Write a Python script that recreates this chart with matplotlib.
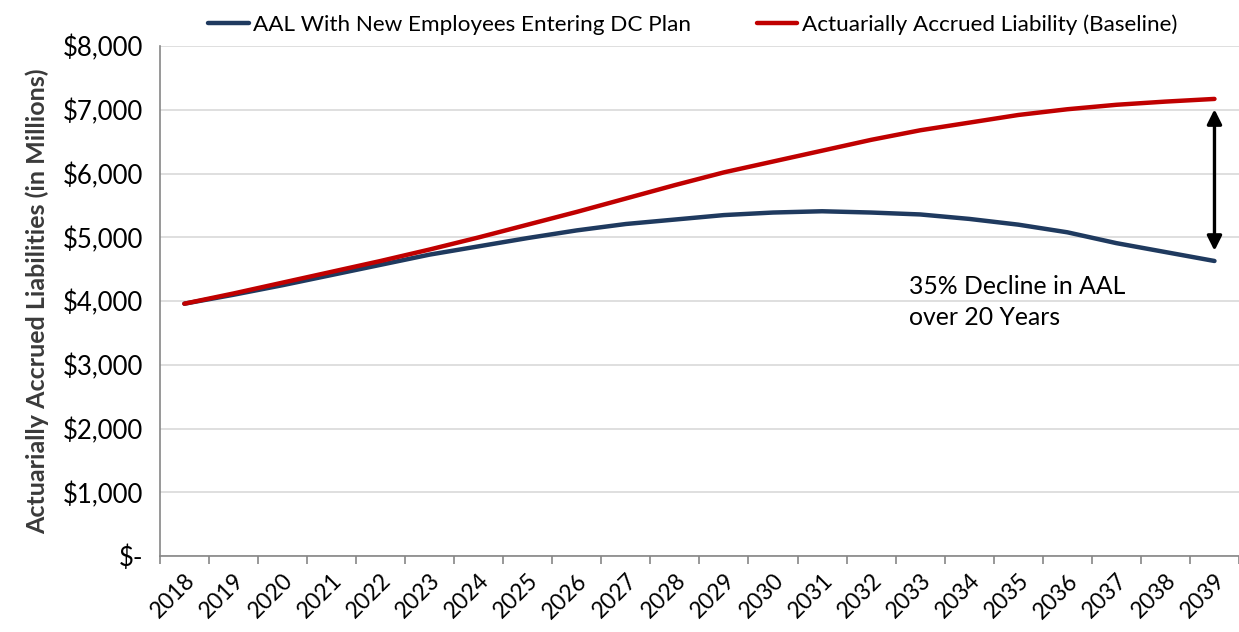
import matplotlib.pyplot as plt
import numpy as np

plt.rcParams["font.family"] = ["Lato", "DejaVu Sans"]

years = [str(y) for y in range(2018, 2040)]
baseline = [3960, 4120, 4290, 4460, 4630, 4810, 5000, 5200, 5400, 5610, 5820,
            6020, 6190, 6360, 6530, 6680, 6800, 6920, 7010, 7080, 7130, 7172]
dc_plan = [3960, 4100, 4250, 4410, 4570, 4730, 4860, 4990, 5110, 5210, 5280,
           5350, 5390, 5410, 5390, 5360, 5290, 5200, 5080, 4910, 4770, 4630]
yticks = [0, 1000, 2000, 3000, 4000, 5000, 6000, 7000, 8000]
ytick_labels = ["$-", "$1,000", "$2,000", "$3,000", "$4,000", "$5,000",
                "$6,000", "$7,000", "$8,000"]

fig = plt.figure(figsize=(12.39, 6.32), dpi=100)
ax = fig.add_axes([0.129, 0.120, 0.871, 0.807])

x = np.arange(len(years))
ax.plot(x, dc_plan, color="#1F3A5F", lw=3.2, solid_capstyle="round",
        label="AAL With New Employees Entering DC Plan")
ax.plot(x, baseline, color="#C00000", lw=3.2, solid_capstyle="round",
        label="Actuarially Accrued Liability (Baseline)")

ax.set_xlim(-0.5, len(years) - 0.5)
ax.set_ylim(0, 8000)
ax.set_yticks(yticks)
ax.set_yticklabels(ytick_labels, fontsize=18.5)
ax.tick_params(axis="y", length=0, pad=12)
ax.grid(axis="y", color="#D9D9D9", lw=1.2)
ax.set_axisbelow(True)

ax.set_xticks(x)
ax.set_xticklabels(years, rotation=45, ha="right", rotation_mode="anchor", fontsize=16.5)
ax.tick_params(axis="x", which="major", length=0, pad=10)
ax.set_xticks(np.arange(-0.5, len(years)), minor=True)
ax.tick_params(axis="x", which="minor", length=6, color="#868686", width=1.2)

for side in ["top", "right"]:
    ax.spines[side].set_visible(False)
for side in ["left", "bottom"]:
    ax.spines[side].set_color("#868686")
    ax.spines[side].set_linewidth(1.2)

ax.set_ylabel("Actuarially Accrued Liabilities (in Millions)", fontsize=18,
              fontweight="bold", color="#3A3A3A", labelpad=10)

ax.annotate("", xy=(21, 4790), xytext=(21, 7010),
            arrowprops=dict(arrowstyle="<|-|>", color="black", lw=2.4,
                            mutation_scale=22, shrinkA=0, shrinkB=0))
ax.text(14.78, 3990, "35% Decline in AAL\nover 20 Years", fontsize=17.8,
        va="center", ha="left", linespacing=1.4)

fig.legend(loc="upper center", bbox_to_anchor=(0.559, 1.01), ncol=2, frameon=False,
           fontsize=16.2, handlelength=1.8, handletextpad=0.2, columnspacing=2.9)

fig.savefig("out.png", dpi=100)
